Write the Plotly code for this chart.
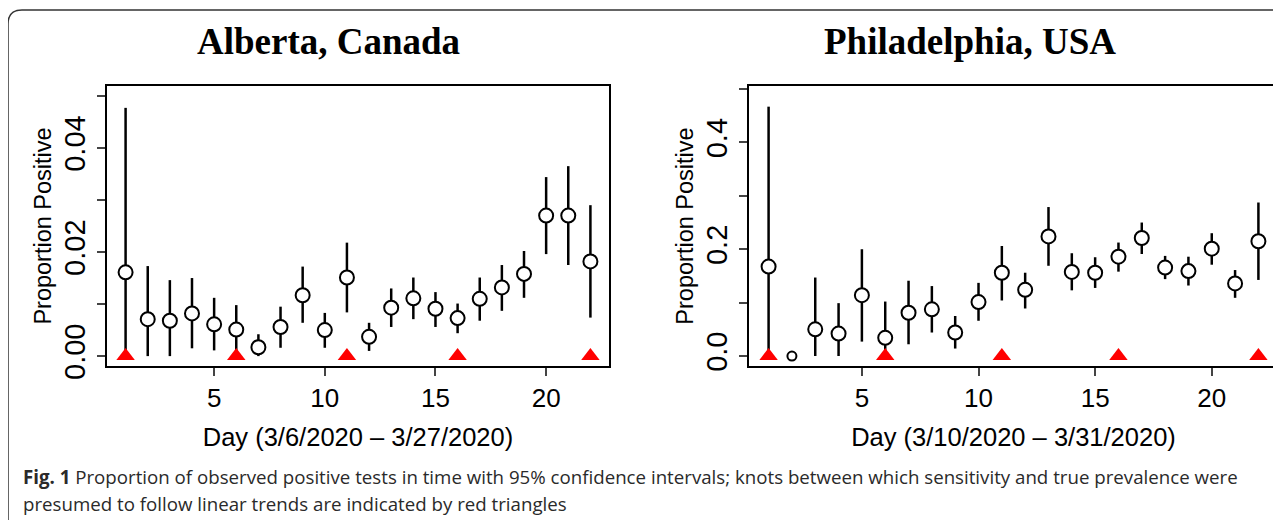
import plotly.graph_objects as go

days = list(range(1, 23))
knots = [1, 6, 11, 16, 22]

alberta_p = [0.0161, 0.0071, 0.0068, 0.0082, 0.0061, 0.0051, 0.0017, 0.0056, 0.0117, 0.0050, 0.0151,
             0.0037, 0.0093, 0.0111, 0.0091, 0.0073, 0.0110, 0.0132, 0.0158, 0.0270, 0.0270, 0.0182]
alberta_hi = [0.0477, 0.0173, 0.0146, 0.0150, 0.0112, 0.0098, 0.0042, 0.0095, 0.0172, 0.0083, 0.0218,
              0.0064, 0.0130, 0.0151, 0.0123, 0.0101, 0.0151, 0.0175, 0.0202, 0.0344, 0.0365, 0.0290]
alberta_lo = [0.0, 0.0, 0.0, 0.0015, 0.0011, 0.0005, 0.0, 0.0016, 0.0064, 0.0016, 0.0084,
              0.0010, 0.0056, 0.0071, 0.0056, 0.0044, 0.0068, 0.0087, 0.0112, 0.0196, 0.0175, 0.0074]

phila_p = [0.1675, 0.0, 0.050, 0.042, 0.114, 0.034, 0.081, 0.0875, 0.044, 0.101, 0.156,
           0.124, 0.224, 0.1575, 0.156, 0.186, 0.221, 0.1656, 0.159, 0.201, 0.136, 0.215]
phila_hi = [0.467, 0.0, 0.147, 0.099, 0.200, 0.102, 0.141, 0.131, 0.075, 0.137, 0.206,
            0.156, 0.279, 0.1925, 0.185, 0.2125, 0.250, 0.1875, 0.186, 0.230, 0.161, 0.2875]
phila_lo = [0.0, 0.0, 0.0, 0.0, 0.027, 0.006, 0.022, 0.044, 0.014, 0.066, 0.104,
            0.089, 0.169, 0.123, 0.1275, 0.158, 0.191, 0.144, 0.132, 0.171, 0.109, 0.1425]

left_yticks = [0.0, 0.01, 0.02, 0.03, 0.04, 0.05]
left_ylabels = ["0.00", "", "0.02", "", "0.04", ""]
right_yticks = [0.0, 0.1, 0.2, 0.3, 0.4, 0.5]
right_ylabels = ["0.0", "", "0.2", "", "0.4", ""]
xticks = [5, 10, 15, 20]

titles = ["Alberta, Canada", "Philadelphia, USA"]
xtitles = ["Day (3/6/2020 \u2013 3/27/2020)", "Day (3/10/2020 \u2013 3/31/2020)"]
ytitle = "Proportion Positive"
caption1 = "<b>Fig. 1</b> Proportion of observed positive tests in time with 95% confidence intervals; knots between which sensitivity and true prevalence were"
caption2 = "presumed to follow linear trends are indicated by red triangles"

W, H = 1281, 520
OFF = 8  # page body margin


def px(x):
    return (x - OFF) / W


def py(y):
    return (H - (y - OFF)) / H


fig = go.Figure()


def add_panel(p, hi, lo, xa, ya, sizes):
    fig.add_trace(go.Scatter(
        x=days, y=p, mode="markers", xaxis=xa, yaxis=ya, showlegend=False,
        error_y=dict(type="data", symmetric=False,
                     array=[h - v for h, v in zip(hi, p)],
                     arrayminus=[v - l for v, l in zip(p, lo)],
                     color="black", thickness=2.5, width=0),
        marker=dict(symbol="circle", size=sizes, color="white", opacity=1,
                    line=dict(color="black", width=2)),
    ))
    fig.add_trace(go.Scatter(
        x=knots, y=[0] * len(knots), mode="markers", xaxis=xa, yaxis=ya, showlegend=False,
        marker=dict(symbol="triangle-up", size=16, color="red", line=dict(width=0)),
    ))


add_panel(alberta_p, alberta_hi, alberta_lo, "x", "y", 14)
psizes = [14] * 22
psizes[1] = 9
add_panel(phila_p, phila_hi, phila_lo, "x2", "y2", psizes)

xtick_font = dict(family="Liberation Sans, Arial", size=26, color="black")
xtitle_font = dict(family="Liberation Sans, Arial", size=25.5, color="black")
ytick_font = dict(family="Liberation Sans, Arial", size=29, color="black")
ytitle_font = dict(family="Liberation Sans, Arial", size=23.5, color="black")
common_x = dict(range=[0.16, 22.84], tickvals=xticks, ticks="outside", ticklen=8, tickwidth=2,
                showline=True, linewidth=2, linecolor="black", mirror=True, showgrid=False,
                zeroline=False, tickfont=xtick_font, title_font=xtitle_font, title_standoff=16,
                automargin=False)
common_y = dict(ticks="outside", ticklen=8, tickwidth=2, showline=True, linewidth=2,
                linecolor="black", mirror=True, showgrid=False, zeroline=False,
                tickfont=ytick_font, title_font=ytitle_font, tickangle=-90, title_standoff=1,
                automargin=False)

y0 = py(366)
y1 = py(86)
fig.update_layout(
    width=W, height=H, margin=dict(l=0, r=0, t=0, b=0, autoexpand=False),
    paper_bgcolor="white", plot_bgcolor="white",
    xaxis=dict(domain=[px(107), px(609)], anchor="y", title_text=xtitles[0], **common_x),
    yaxis=dict(domain=[y0, y1], anchor="x", range=[-0.0019, 0.0519], tickvals=left_yticks,
               ticktext=left_ylabels, title_text=ytitle, **common_y),
    xaxis2=dict(domain=[px(749), px(1278)], anchor="y2", title_text=xtitles[1], **common_x),
    yaxis2=dict(domain=[y0, y1], anchor="x2", range=[-0.0187, 0.5057], tickvals=right_yticks,
                ticktext=right_ylabels, title_text=ytitle, **common_y),
)

title_font = dict(family="Liberation Serif, Times New Roman", size=37, color="black")
fig.add_annotation(text="<b>" + titles[0] + "</b>", x=px(328), y=py(42), xref="paper", yref="paper",
                   showarrow=False, font=title_font, xanchor="center", yanchor="middle")
fig.add_annotation(text="<b>" + titles[1] + "</b>", x=px(970), y=py(42), xref="paper", yref="paper",
                   showarrow=False, font=title_font, xanchor="center", yanchor="middle")

cap_font = dict(family="Open Sans", size=18.7, color="#2a2a2a")
fig.add_annotation(text=caption1, x=px(21), y=py(476), xref="paper", yref="paper", showarrow=False,
                   font=cap_font, xanchor="left", yanchor="middle")
fig.add_annotation(text=caption2, x=px(21), y=py(504), xref="paper", yref="paper", showarrow=False,
                   font=cap_font, xanchor="left", yanchor="middle")

# rounded frame
path = (f"M {px(1290)},{py(10)} L {px(22)},{py(10)} Q {px(8)},{py(10)} {px(8)},{py(24)} "
        f"L {px(8)},{py(530)}")
fig.add_shape(type="path", path=path, xref="paper", yref="paper",
              line=dict(color="#333333", width=1.5))

fig.write_html("out.html")
